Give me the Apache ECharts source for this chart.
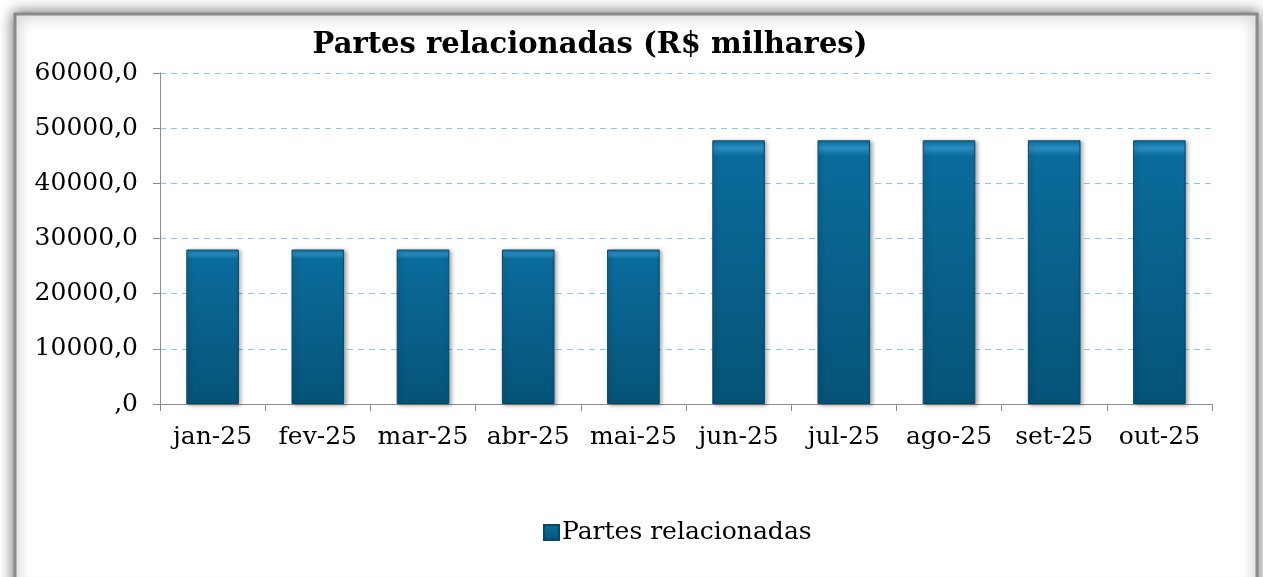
<!DOCTYPE html>
<html><head><meta charset="utf-8">
<script src="https://cdn.jsdelivr.net/npm/echarts@6/dist/echarts.min.js"></script>
<style>html,body{margin:0;padding:0;background:#fff;}#c{width:1263px;height:577px;}</style>
</head><body><div id="c"></div>
<script>
const categories = ['jan-25','fev-25','mar-25','abr-25','mai-25','jun-25','jul-25','ago-25','set-25','out-25'];
const values = [28000,28000,28000,28000,28000,47800,47800,47800,47800,47800];
const seriesName = 'Partes relacionadas';
const titleText = 'Partes relacionadas (R$ milhares)';
const FONT = 'DejaVu Serif';
const chart = echarts.init(document.getElementById('c'), null, {renderer:'canvas'});
chart.setOption({
  animation:false,
  backgroundColor:'#fff',
  graphic:[{type:'rect',z:-10,shape:{x:15,y:14,width:1242,height:580},
    style:{fill:'#fff',stroke:'#8a8a8a',lineWidth:3,shadowBlur:14,shadowColor:'rgba(0,0,0,0.55)',shadowOffsetX:0,shadowOffsetY:0}}],
  title:{text:titleText,left:585,top:26,textAlign:'center',
    textStyle:{fontFamily:FONT,fontWeight:'bold',fontSize:29,color:'#000'}},
  legend:{data:[{name:seriesName,icon:'rect'}],left:538,top:515,itemWidth:15,itemHeight:15,itemGap:4,
    textStyle:{fontFamily:FONT,fontSize:25,color:'#000',padding:[0,0,0,-2]}},
  grid:{left:160,right:51,top:73,bottom:173,containLabel:false},
  xAxis:{type:'category',data:categories,boundaryGap:true,
    axisLine:{lineStyle:{color:'#8c8c8c',width:1}},
    axisTick:{show:true,alignWithLabel:false,length:7,lineStyle:{color:'#8c8c8c'}},
    axisLabel:{fontFamily:FONT,fontSize:25,color:'#000',margin:21,interval:0}},
  yAxis:{type:'value',min:0,max:60000,interval:10000,
    axisLine:{show:true,lineStyle:{color:'#8c8c8c'}},
    axisTick:{show:true,length:7,lineStyle:{color:'#8c8c8c'}},
    axisLabel:{fontFamily:FONT,fontSize:25,color:'#000',margin:22,
      formatter:v=> v===0?',0':(v+',0')},
    splitLine:{lineStyle:{color:'#7fcbec',type:[6,5],width:1}}},
  series:[{name:seriesName,type:'bar',data:values,barWidth:'50%',
    itemStyle:{color:new echarts.graphic.LinearGradient(0,0,0,1,[
      {offset:0,color:'#0b73a5'},{offset:0.03,color:'#2a8cc0'},{offset:0.06,color:'#0a6c9c'},{offset:1,color:'#065377'}]),
      borderColor:'#05496a',borderWidth:1,shadowBlur:4,shadowColor:'rgba(0,0,0,0.35)',shadowOffsetX:2,shadowOffsetY:1}}]
});
</script></body></html>
